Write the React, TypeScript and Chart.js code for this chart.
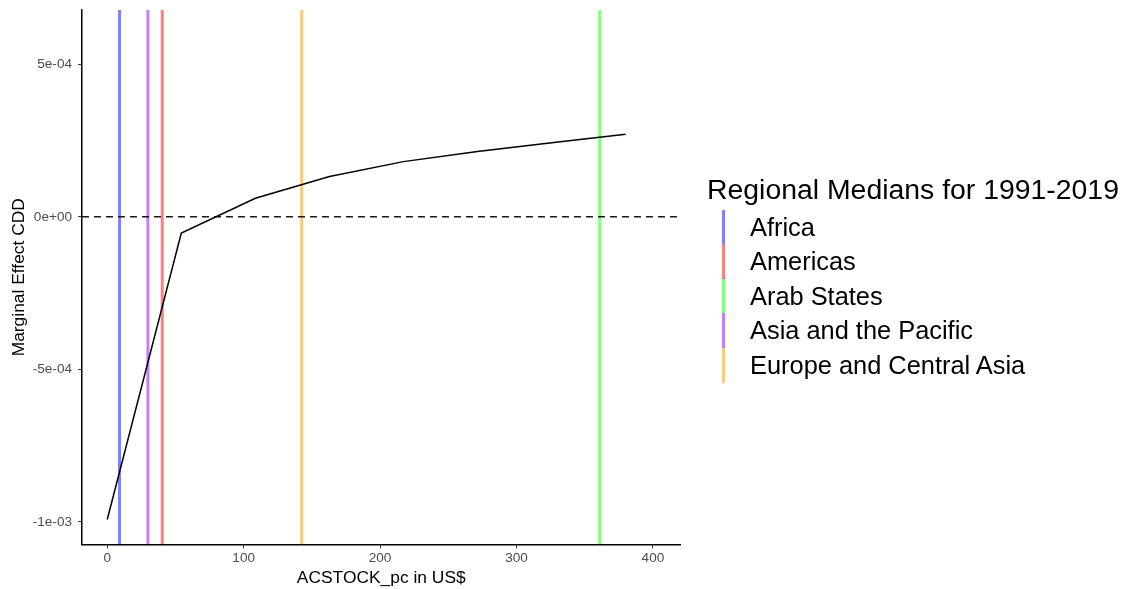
import React, { useEffect, useRef } from "react";
import { Chart, registerables } from "chart.js";

Chart.register(...registerables);

// ---- Data ----
const stockValues = [0, 54.3, 108.6, 162.9, 217.1, 271.4, 325.7, 380];
const marginalEffect = [-9.92e-4, -5.3e-5, 6.1e-5, 1.32e-4, 1.81e-4, 2.14e-4, 2.43e-4, 2.71e-4];

const regions = ["Africa", "Americas", "Arab States", "Asia and the Pacific", "Europe and Central Asia"];
const regionMedians = [9.0, 40.3, 361, 29.8, 142.5];
const regionColors = [
  "rgba(0,0,255,0.5)",
  "rgba(255,0,0,0.5)",
  "rgba(0,255,0,0.5)",
  "rgba(128,0,255,0.5)",
  "rgba(255,145,0,0.5)",
];

const xTicks = [0, 100, 200, 300, 400];
const yTicks = [-1e-3, -5e-4, 0, 5e-4];
const yTickLabels = ["-1e-03", "-5e-04", "0e+00", "5e-04"];

const xLimits = [-18.5, 420.2];
const yLimits = [-1.074e-3, 6.78e-4];

const legendTitle = "Regional Medians for 1991-2019";
const xTitle = "ACSTOCK_pc in US$";
const yTitle = "Marginal Effect CDD";

const FONT = "'Liberation Sans', Arial, Helvetica, sans-serif";

export default function App() {
  const canvasRef = useRef<HTMLCanvasElement | null>(null);

  useEffect(() => {
    if (!canvasRef.current) return;

    const curve = {
      label: "effect",
      data: stockValues.map((x, i) => ({ x, y: marginalEffect[i] })),
      borderColor: "#000000",
      borderWidth: 1.5,
      pointRadius: 0,
      tension: 0,
      fill: false,
    };
    const zeroLine = {
      label: "zero",
      data: [
        { x: xLimits[0], y: 0 },
        { x: xLimits[1], y: 0 },
      ],
      borderColor: "#1a1a1a",
      borderWidth: 1.5,
      borderDash: [7, 5],
      pointRadius: 0,
      fill: false,
    };
    const vlines = regions.map((r, i) => ({
      label: r,
      data: [
        { x: regionMedians[i], y: yLimits[0] },
        { x: regionMedians[i], y: yLimits[1] },
      ],
      borderColor: regionColors[i],
      borderWidth: 3,
      pointRadius: 0,
      fill: false,
    }));

    const chart = new Chart(canvasRef.current, {
      type: "line",
      data: { datasets: [curve, zeroLine, ...vlines] as any },
      options: {
        animation: false,
        responsive: false,
        maintainAspectRatio: false,
        parsing: false as any,
        layout: { padding: { left: 0, right: 1127 - 680.5, top: 10, bottom: 0 } },
        plugins: {
          legend: { display: false },
          tooltip: { enabled: false },
        },
        scales: {
          x: {
            type: "linear",
            min: xLimits[0],
            max: xLimits[1],
            afterBuildTicks: (scale: any) => {
              scale.ticks = xTicks.map((v) => ({ value: v }));
            },
            afterFit: (scale: any) => {
              scale.height = 589 - 544.5;
              scale.paddingLeft = 0;
              scale.paddingRight = 0;
            },
            grid: {
              display: true,
              drawOnChartArea: false,
              drawTicks: true,
              tickLength: 4,
              color: "#333333",
              lineWidth: 1,
            },
            border: { display: true, color: "#000000", width: 1.5 },
            ticks: {
              color: "#4d4d4d",
              font: { family: FONT, size: 13.6 },
              padding: 2,
              maxRotation: 0,
              autoSkip: false,
              callback: (v: any) => String(v),
            },
            title: {
              display: true,
              text: xTitle,
              color: "#000000",
              font: { family: FONT, size: 17.4 },
              padding: { top: 0, bottom: 0 },
            },
          },
          y: {
            type: "linear",
            min: yLimits[0],
            max: yLimits[1],
            afterBuildTicks: (scale: any) => {
              scale.ticks = yTicks.map((v) => ({ value: v }));
            },
            afterFit: (scale: any) => {
              scale.width = 82;
              scale.paddingTop = 0;
              scale.paddingBottom = 0;
            },
            grid: {
              display: true,
              drawOnChartArea: false,
              drawTicks: true,
              tickLength: 4,
              color: "#333333",
              lineWidth: 1,
            },
            border: { display: true, color: "#000000", width: 1.5 },
            ticks: {
              color: "#4d4d4d",
              font: { family: FONT, size: 13.6 },
              padding: 6,
              autoSkip: false,
              callback: (v: any) => {
                const idx = yTicks.findIndex((t) => Math.abs(t - Number(v)) < 1e-9);
                return idx >= 0 ? yTickLabels[idx] : "";
              },
            },
            title: {
              display: true,
              text: yTitle,
              color: "#000000",
              font: { family: FONT, size: 17.4 },
              padding: { top: 9, bottom: 0 },
            },
          },
        },
      },
    });

    return () => chart.destroy();
  }, []);

  const itemH = 34.56;
  const keyTop = 209.8;

  return (
    <div style={{ position: "absolute", left: 0, top: 0, width: 1127, height: 589, background: "#ffffff", fontFamily: FONT }}>
      <canvas ref={canvasRef} width={1127} height={589} style={{ position: "absolute", left: 0, top: 0, width: 1127, height: 589 }} />
      <div
        style={{
          position: "absolute",
          left: 707,
          top: 174.8,
          fontSize: 28.4,
          lineHeight: "28.4px",
          color: "#000",
          whiteSpace: "nowrap",
        }}
      >
        {legendTitle}
      </div>
      {regions.map((r, i) => (
        <React.Fragment key={r}>
          <div
            style={{
              position: "absolute",
              left: 722,
              top: keyTop + i * itemH,
              width: 3,
              height: itemH,
              background: regionColors[i],
            }}
          />
          <div
            style={{
              position: "absolute",
              left: 750,
              top: keyTop + i * itemH,
              height: itemH,
              lineHeight: itemH + "px",
              fontSize: 25.4,
              color: "#000",
              whiteSpace: "nowrap",
            }}
          >
            {r}
          </div>
        </React.Fragment>
      ))}
    </div>
  );
}
